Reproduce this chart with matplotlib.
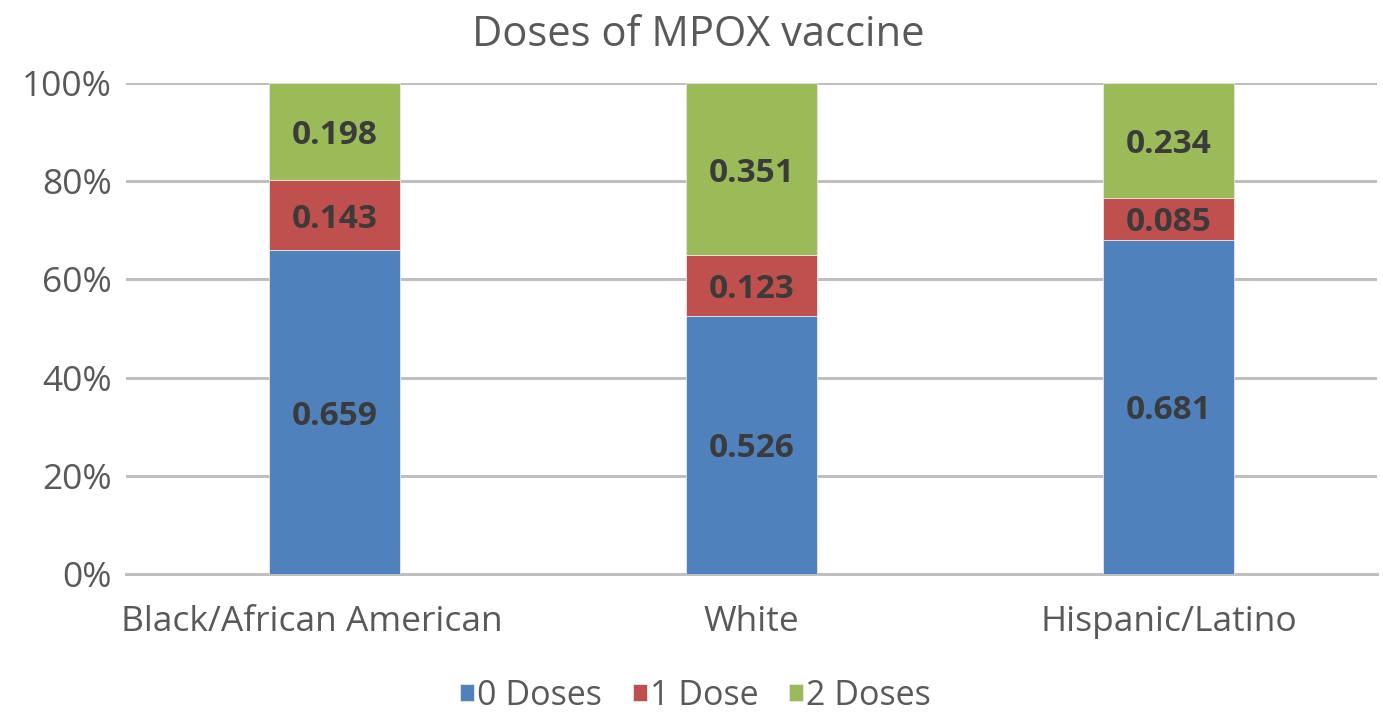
import matplotlib.pyplot as plt
import matplotlib.transforms as mtransforms
import numpy as np

plt.rcParams['font.family'] = ['Open Sans', 'DejaVu Sans']

# data
groups = ['Black/African American', 'White', 'Hispanic/Latino']
zero_doses = [0.659, 0.526, 0.681]
one_dose = [0.143, 0.123, 0.085]
two_doses = [0.198, 0.351, 0.234]
series_names = ['0 Doses', '1 Dose', '2 Doses']
colors = ['#4f81bd', '#c0504d', '#9bbb59']
yticks = [0, 0.2, 0.4, 0.6, 0.8, 1.0]

fig = plt.figure(figsize=(13.83, 7.12), dpi=100)
ax = fig.add_axes([126 / 1383, 1 - 574 / 712, 1251 / 1383, 491 / 712])

x = np.arange(len(groups))
bottom = np.zeros(len(groups))
for vals, name, col in zip([zero_doses, one_dose, two_doses], series_names, colors):
    vals = np.array(vals)
    ax.bar(x, vals, 0.314, bottom=bottom, color=col, label=name,
           edgecolor='#e8e8e8', linewidth=0.6, zorder=3)
    for xi, b, v in zip(x, bottom, vals):
        ax.text(xi, b + v / 2 - 0.008, f'{v:.3f}', ha='center', va='center',
                fontsize=24, fontweight='bold', color='#3b3b3b', zorder=4)
    bottom += vals

ax.set_xlim(-0.5, 2.5)
ax.set_ylim(0, 1)
ax.set_yticks(yticks)
ax.set_yticklabels([f'{int(t * 100)}%' for t in yticks])
ax.set_xticks(x)
ax.set_xticklabels(groups)
ax.yaxis.grid(True, color='#bfbfbf', linewidth=2.2, zorder=0)
ax.set_axisbelow(True)
for s in ['top', 'right', 'left']:
    ax.spines[s].set_visible(False)
ax.spines['bottom'].set_color('#bfbfbf')
ax.spines['bottom'].set_linewidth(2.2)
ax.tick_params(axis='both', length=0, labelsize=25.5, colors='#595959')
ax.tick_params(axis='y', pad=10)
ax.tick_params(axis='x', pad=22)

# first category label sits a bit left of its bar in the original
lbl = ax.get_xticklabels()[0]
lbl.set_transform(lbl.get_transform() + mtransforms.ScaledTranslation(-0.23, 0, fig.dpi_scale_trans))

fig.text(0.505, 1 - 35 / 712, 'Doses of MPOX vaccine', ha='center', va='center',
         fontsize=30, color='#595959')

fig.legend(loc='center', bbox_to_anchor=(0.503, 1 - 696 / 712), ncol=3, frameon=False,
           fontsize=24.5, labelcolor='#595959', handlelength=0.4, handleheight=0.4,
           handletextpad=0.1, columnspacing=0.9)

fig.savefig('out.png', dpi=100)
